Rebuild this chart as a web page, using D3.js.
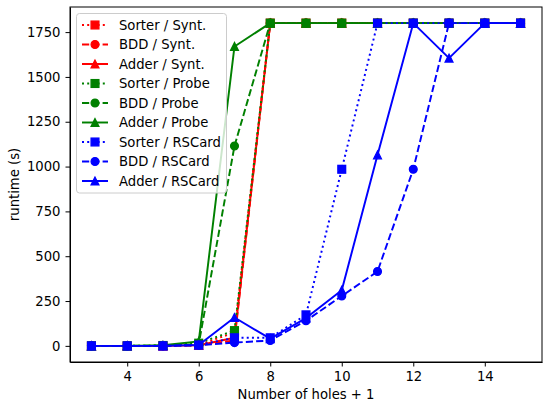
<!DOCTYPE html>
<html>
<head>
<meta charset="utf-8">
<script src="https://cdn.jsdelivr.net/npm/d3@7"></script>
<style>
  body { margin: 0; background: #fff; }
  svg { display: block; font-family: "DejaVu Sans", sans-serif; }
  .tick text { font-size: 13.2px; fill: #000; }
  .tick line { stroke: #000; stroke-width: 1; }
  .domain { stroke: #000; stroke-width: 1; }
</style>
</head>
<body>
<svg id="chart" width="543" height="403"></svg>
<script>
// holes + 1
const holes = [3, 4, 5, 6, 7, 8, 9, 10, 11, 12, 13, 14, 15];

const sorterSynt   = [0, 0, 0, 5, 75, 1800, 1800, 1800, 1800, 1800, 1800, 1800, 1800];
const bddSynt      = [0, 0, 0, 3, 30, 1800, 1800, 1800, 1800, 1800, 1800, 1800, 1800];
const adderSynt    = [0, 0, 0, 3, 45, 1800, 1800, 1800, 1800, 1800, 1800, 1800, 1800];
const sorterProbe  = [0, 0, 2, 15, 85, 1800, 1800, 1800, 1800, 1800, 1800, 1800, 1800];
const bddProbe     = [0, 0, 2, 10, 1115, 1800, 1800, 1800, 1800, 1800, 1800, 1800, 1800];
const adderProbe   = [0, 0, 3, 25, 1670, 1800, 1800, 1800, 1800, 1800, 1800, 1800, 1800];
const sorterRSCard = [0, 0, 0, 5, 45, 45, 173, 985, 1800, 1800, 1800, 1800, 1800];
const bddRSCard    = [0, 0, 0, 3, 18, 30, 140, 278, 415, 985, 1800, 1800, 1800];
const adderRSCard  = [0, 0, 0, 5, 158, 40, 155, 310, 1065, 1800, 1605, 1800, 1800];

const xTicks = [4, 6, 8, 10, 12, 14];
const yTicks = [0, 250, 500, 750, 1000, 1250, 1500, 1750];

const series = [
  { name: "Sorter / Synt.",  values: sorterSynt,   color: "#ff0000", dash: "dot",  marker: "square" },
  { name: "BDD / Synt.",     values: bddSynt,      color: "#ff0000", dash: "dash", marker: "circle" },
  { name: "Adder / Synt.",   values: adderSynt,    color: "#ff0000", dash: "solid", marker: "triangle" },
  { name: "Sorter / Probe",  values: sorterProbe,  color: "#008000", dash: "dot",  marker: "square" },
  { name: "BDD / Probe",     values: bddProbe,     color: "#008000", dash: "dash", marker: "circle" },
  { name: "Adder / Probe",   values: adderProbe,   color: "#008000", dash: "solid", marker: "triangle" },
  { name: "Sorter / RSCard", values: sorterRSCard, color: "#0000ff", dash: "dot",  marker: "square" },
  { name: "BDD / RSCard",    values: bddRSCard,    color: "#0000ff", dash: "dash", marker: "circle" },
  { name: "Adder / RSCard",  values: adderRSCard,  color: "#0000ff", dash: "solid", marker: "triangle" }
];

const lw = 1.95;
const dashes = { dot: "2 3.2", dash: "7.2 3.1", solid: null };

const margin = { left: 70, right: 1, top: 7, bottom: 41 };
const width = 543, height = 403;

const svg = d3.select("#chart");

const x = d3.scaleLinear().domain([2.4, 15.6]).range([margin.left, width - margin.right]);
const y = d3.scaleLinear().domain([-90, 1890]).range([height - margin.bottom, margin.top]);

// axes
svg.append("g")
  .attr("transform", `translate(0,${height - margin.bottom})`)
  .call(d3.axisBottom(x).tickValues(xTicks).tickFormat(d3.format("d"))
    .tickSize(4.5).tickPadding(5).tickSizeOuter(0));

svg.append("g")
  .attr("transform", `translate(${margin.left},0)`)
  .call(d3.axisLeft(y).tickValues(yTicks).tickFormat(d3.format("d"))
    .tickSize(4.5).tickPadding(5).tickSizeOuter(0));

// frame
svg.append("rect")
  .attr("x", margin.left).attr("y", margin.top)
  .attr("width", width - margin.left - margin.right)
  .attr("height", height - margin.top - margin.bottom)
  .attr("fill", "none").attr("stroke", "#000").attr("stroke-width", 1);

svg.selectAll(".tick text").attr("font-family", "DejaVu Sans");

function drawMarker(g, type, cx, cy, color) {
  const r = 3.9;
  if (type === "square") {
    g.append("rect").attr("x", cx - r).attr("y", cy - r)
      .attr("width", 2 * r).attr("height", 2 * r)
      .attr("fill", color).attr("stroke", color).attr("stroke-width", 1.3);
  } else if (type === "circle") {
    g.append("circle").attr("cx", cx).attr("cy", cy).attr("r", r)
      .attr("fill", color).attr("stroke", color).attr("stroke-width", 1.3);
  } else {
    g.append("path")
      .attr("d", `M${cx},${cy - r}L${cx - r},${cy + r}L${cx + r},${cy + r}Z`)
      .attr("fill", color).attr("stroke", color).attr("stroke-width", 1.3)
      .attr("stroke-linejoin", "miter");
  }
}

const line = d3.line().x(d => x(d[0])).y(d => y(d[1]));

const plot = svg.append("g");
series.forEach(s => {
  const pts = holes.map((h, i) => [h, s.values[i]]);
  plot.append("path")
    .attr("d", line(pts))
    .attr("fill", "none")
    .attr("stroke", s.color)
    .attr("stroke-width", lw)
    .attr("stroke-dasharray", dashes[s.dash])
    .attr("stroke-linejoin", "round");
  const mg = plot.append("g");
  pts.forEach(p => drawMarker(mg, s.marker, x(p[0]), y(p[1]), s.color));
});

// legend
const legend = svg.append("g");
legend.append("rect")
  .attr("x", 76.5).attr("y", 13.5).attr("width", 150).attr("height", 179.5)
  .attr("rx", 3).attr("ry", 3)
  .attr("fill", "rgba(255,255,255,0.8)")
  .attr("stroke", "#cccccc").attr("stroke-width", 1);

series.forEach((s, i) => {
  const cy = 25 + i * 19.5;
  legend.append("line")
    .attr("x1", 82).attr("x2", 108).attr("y1", cy).attr("y2", cy)
    .attr("stroke", s.color).attr("stroke-width", lw)
    .attr("stroke-dasharray", dashes[s.dash]);
  drawMarker(legend, s.marker, 95, cy, s.color);
  legend.append("text")
    .attr("x", 119).attr("y", cy).attr("dy", "0.36em")
    .attr("font-size", 13.2).text(s.name);
});

// axis labels
svg.append("text")
  .attr("x", (margin.left + width - margin.right) / 2).attr("y", 399)
  .attr("text-anchor", "middle").attr("font-size", 13.2)
  .text("Number of holes + 1");

svg.append("text")
  .attr("transform", `translate(19,${(margin.top + height - margin.bottom) / 2}) rotate(-90)`)
  .attr("text-anchor", "middle").attr("font-size", 13.2)
  .text("runtime (s)");
</script>
</body>
</html>
